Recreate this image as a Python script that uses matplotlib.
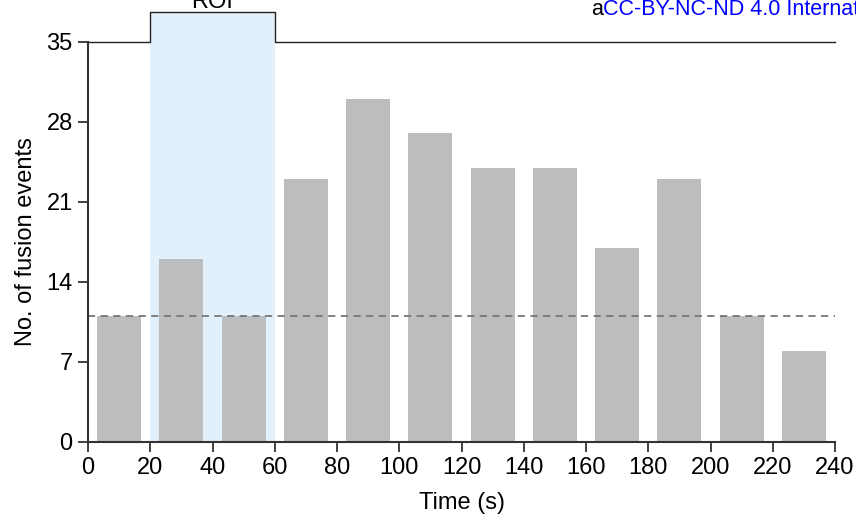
import matplotlib.pyplot as plt

plt.rcParams['font.family'] = ['Liberation Sans', 'DejaVu Sans']

# fusion event counts per 20 s bin
bin_centres = [10, 30, 50, 70, 90, 110, 130, 150, 170, 190, 210, 230]
fusion_counts = [11, 16, 11, 23, 30, 27, 24, 24, 17, 23, 11, 8]
baseline_level = 11
roi_start, roi_end = 20, 60
x_ticks = [0, 20, 40, 60, 80, 100, 120, 140, 160, 180, 200, 220, 240]
y_ticks = [0, 7, 14, 21, 28, 35]

fig = plt.figure(figsize=(8.56, 5.26), dpi=100)
ax = fig.add_axes([0.1028, 0.1597, 0.8727, 0.7605])

# stimulation window: shaded region plus the bracket above the plot
roi_top = 37.6
ax.fill_between([roi_start, roi_end], 0, roi_top, color='#e2f0fc', lw=0,
                clip_on=False, zorder=0)
ax.plot([0, roi_start, roi_start, roi_end, roi_end, 240],
        [35, 35, roi_top, roi_top, 35, 35],
        color='#222222', lw=1.0, clip_on=False, zorder=3)
ax.text((roi_start + roi_end) / 2, 37.95, 'ROI', ha='center', va='baseline',
        fontsize=17, clip_on=False)

ax.bar(bin_centres, fusion_counts, width=14.2, color='#bcbdbf', zorder=1)
ax.plot([0, 240], [baseline_level, baseline_level], color='#777777',
        lw=1.3, ls=(0, (4, 3)), zorder=2)

ax.set_xlim(0, 240)
ax.set_ylim(0, 35)
ax.set_xticks(x_ticks)
ax.set_yticks(y_ticks)
ax.tick_params(labelsize=17, length=7, width=1.3, color='#333333',
               direction='out', pad=4)
for side in ['top', 'right']:
    ax.spines[side].set_visible(False)
for side in ['left', 'bottom']:
    ax.spines[side].set_color('#333333')
    ax.spines[side].set_linewidth(1.5)
ax.set_xlabel('Time (s)', fontsize=17, labelpad=9)
ax.set_ylabel('No. of fusion events', fontsize=17, labelpad=7)

lic_a = fig.text(0.690, 1 - 15 / 526, 'a', fontsize=15.5, color='black',
                 va='baseline')
ax.annotate('CC-BY-NC-ND 4.0 International license', xy=(1, 0),
            xycoords=lic_a, va='bottom', ha='left', fontsize=15.5,
            color='#0000ff', annotation_clip=False)

fig.savefig('out.png', dpi=100)
